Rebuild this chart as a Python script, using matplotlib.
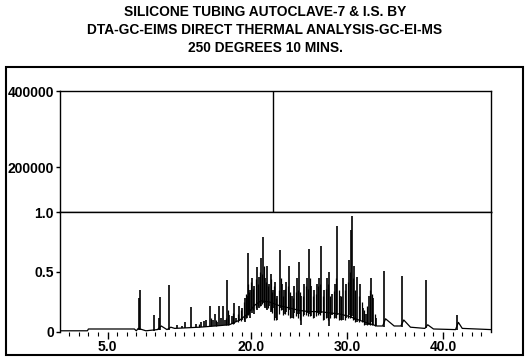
import matplotlib
matplotlib.use("Agg")
import matplotlib.pyplot as plt
from matplotlib.patches import Rectangle

plt.rcParams['font.family'] = ['Liberation Sans', 'DejaVu Sans']
plt.rcParams['font.weight'] = 'bold'

title_lines = ["SILICONE TUBING AUTOCLAVE-7 & I.S. BY",
               "DTA-GC-EIMS DIRECT THERMAL ANALYSIS-GC-EI-MS",
               "250 DEGREES 10 MINS."]

# baseline / hump of the chromatogram (minutes, relative abundance)
base_t = [0.0, 2.9, 3.0, 7.8, 8.0, 8.2, 8.6, 9.0, 10.2, 10.6, 11.2, 11.6, 12.0,
          14.6, 16.2, 17.7, 18.8, 19.6, 20.3, 21.0, 21.9, 22.9, 24.0, 25.0,
          26.0, 27.1, 28.1, 29.2, 30.2, 31.2, 32.3, 33.1, 33.7, 34.0, 34.9,
          35.6, 35.9, 36.6, 38.1, 38.4, 39.0, 41.3, 41.6, 42.0, 45.0]
base_v = [0.01, 0.01, 0.025, 0.025, 0.01, 0.03, 0.02, 0.01, 0.02, 0.05, 0.02,
          0.04, 0.03, 0.04, 0.05, 0.06, 0.10, 0.15, 0.22, 0.26, 0.25, 0.22,
          0.20, 0.18, 0.17, 0.17, 0.16, 0.15, 0.13, 0.10, 0.07, 0.05, 0.05,
          0.11, 0.05, 0.05, 0.10, 0.04, 0.03, 0.06, 0.025, 0.02, 0.08, 0.03, 0.02]

# main peaks: retention time, foot, apex
peak_t = [8.26, 8.36, 9.82, 10.35, 10.44, 11.38, 12.21, 12.8, 13.1, 13.67, 14.2,
          14.7, 15.1, 15.3, 15.64, 15.95, 16.16, 16.4, 16.58, 16.8, 17.0, 17.2,
          17.5, 17.7, 17.93, 18.24, 18.45, 18.76, 19.07, 19.3, 19.5, 19.7, 19.9,
          20.1, 20.3, 20.6, 20.8, 21.05, 21.26, 21.47, 21.67, 21.88, 22.1, 22.3,
          22.5, 22.7, 23.03, 23.2, 23.4, 23.65, 23.96, 24.2, 24.5, 24.8, 25.0,
          25.2, 25.5, 25.8, 26.04, 26.25, 26.56, 26.87, 27.08, 27.29, 27.6, 27.9,
          28.1, 28.43, 28.75, 28.95, 29.27, 29.58, 29.89, 30.2, 30.41, 30.51,
          30.72, 31.0, 31.35, 31.66, 31.97, 32.28, 32.49, 32.7, 33.0, 33.84,
          35.7, 38.21, 41.44]
peak_lo = [0.02, 0.02, 0.01, 0.02, 0.02, 0.02, 0.03, 0.03, 0.03, 0.04, 0.04,
           0.04, 0.04, 0.04, 0.05, 0.05, 0.05, 0.05, 0.05, 0.05, 0.06, 0.06,
           0.06, 0.06, 0.07, 0.07, 0.08, 0.09, 0.10, 0.08, 0.12, 0.14, 0.12,
           0.16, 0.15, 0.18, 0.20, 0.22, 0.24, 0.20, 0.18, 0.22, 0.17, 0.20,
           0.12, 0.10, 0.20, 0.18, 0.15, 0.17, 0.18, 0.12, 0.16, 0.15, 0.15,
           0.06, 0.14, 0.16, 0.15, 0.13, 0.12, 0.16, 0.15, 0.16, 0.10, 0.12,
           0.05, 0.14, 0.12, 0.14, 0.10, 0.10, 0.12, 0.14, 0.12, 0.13, 0.10,
           0.08, 0.10, 0.08, 0.06, 0.06, 0.08, 0.06, 0.05, 0.04, 0.04, 0.03, 0.02]
peak_hi = [0.28, 0.35, 0.14, 0.12, 0.29, 0.39, 0.06, 0.05, 0.08, 0.21, 0.07,
           0.08, 0.09, 0.10, 0.22, 0.10, 0.15, 0.08, 0.22, 0.12, 0.22, 0.10,
           0.43, 0.14, 0.13, 0.24, 0.12, 0.22, 0.20, 0.28, 0.30, 0.66, 0.35,
           0.45, 0.38, 0.54, 0.46, 0.62, 0.79, 0.45, 0.55, 0.40, 0.48, 0.35,
           0.42, 0.30, 0.68, 0.40, 0.35, 0.42, 0.55, 0.30, 0.38, 0.45, 0.58,
           0.30, 0.40, 0.45, 0.69, 0.38, 0.35, 0.40, 0.45, 0.72, 0.35, 0.45,
           0.50, 0.32, 0.40, 0.88, 0.30, 0.45, 0.40, 0.60, 0.85, 0.97, 0.55,
           0.46, 0.40, 0.20, 0.15, 0.30, 0.45, 0.28, 0.12, 0.51, 0.47, 0.43, 0.14]

# smaller unresolved peaks ("grass") on the hump
grass_t = [14.5, 15.8, 16.3, 17.35, 17.6, 18.1, 18.6, 18.9, 19.2, 19.4, 19.6,
           19.8, 20.0, 20.2, 20.45, 20.7, 20.95, 21.15, 21.35, 21.57, 21.78,
           22.0, 22.2, 22.4, 22.6, 22.85, 23.1, 23.3, 23.55, 23.8, 24.05, 24.35,
           24.65, 24.9, 25.1, 25.35, 25.65, 25.9, 26.15, 26.4, 26.7, 26.95, 27.2,
           27.45, 27.75, 28.0, 28.25, 28.6, 28.85, 29.1, 29.4, 29.75, 30.05,
           30.3, 30.62, 30.85, 31.2, 31.5, 31.8, 32.1, 32.4, 32.6, 32.85]
grass_lo = [0.04, 0.05, 0.05, 0.06, 0.06, 0.07, 0.08, 0.09, 0.10, 0.12, 0.14,
            0.15, 0.18, 0.18, 0.20, 0.22, 0.22, 0.23, 0.22, 0.20, 0.20, 0.18,
            0.16, 0.10, 0.10, 0.15, 0.18, 0.14, 0.15, 0.14, 0.12, 0.12, 0.13,
            0.12, 0.10, 0.13, 0.14, 0.13, 0.13, 0.12, 0.13, 0.14, 0.14, 0.10,
            0.12, 0.10, 0.12, 0.12, 0.12, 0.10, 0.10, 0.10, 0.12, 0.12, 0.10,
            0.08, 0.08, 0.08, 0.06, 0.06, 0.06, 0.06, 0.05]
grass_hi = [0.07, 0.12, 0.10, 0.12, 0.18, 0.16, 0.15, 0.18, 0.25, 0.32, 0.40,
            0.33, 0.42, 0.36, 0.44, 0.40, 0.50, 0.48, 0.55, 0.42, 0.38, 0.44,
            0.33, 0.38, 0.28, 0.35, 0.45, 0.30, 0.36, 0.38, 0.33, 0.28, 0.33,
            0.35, 0.33, 0.30, 0.38, 0.36, 0.45, 0.30, 0.32, 0.38, 0.40, 0.30,
            0.36, 0.40, 0.30, 0.34, 0.45, 0.35, 0.30, 0.35, 0.42, 0.50, 0.45,
            0.35, 0.30, 0.25, 0.18, 0.22, 0.35, 0.32, 0.15]

x_ticks = [5.0, 20.0, 30.0, 40.0]
x_labels = ["5.0", "20.0", "30.0", "40.0"]
top_ticks = [200000, 400000]
bottom_ticks = [0, 0.5, 1.0]
bottom_labels = ["0", "0.5", "1.0"]
cursor_t = 22.3

fig = plt.figure(figsize=(5.3, 3.6), dpi=100)
ax_top = fig.add_axes([0.1125, 0.4111, 0.8139, 0.3361])
ax = fig.add_axes([0.1125, 0.0778, 0.8139, 0.3333], sharex=ax_top)

# outer page frame
fig.patches.append(Rectangle((0.011, 0.014), 0.976, 0.800, transform=fig.transFigure,
                             fill=False, lw=1.5, ec='black'))

for i, line in enumerate(title_lines):
    fig.text(0.5, 1 - (12.5 + 17.5 * i) / 360, line, ha='center', va='center',
             fontsize=9.9, fontweight='bold')

# top panel (empty, with cursor line)
ax_top.set_ylim(81600, 400000)
ax_top.set_yticks(top_ticks)
ax_top.set_yticklabels([str(v) for v in top_ticks])
ax_top.axvline(cursor_t, color='black', lw=1)
ax_top.tick_params(axis='x', which='both', bottom=False, labelbottom=False)
ax_top.tick_params(axis='y', length=3, width=1, pad=1, labelsize=10)
for s in ax_top.spines.values():
    s.set_linewidth(1)

# chromatogram
ax.plot(base_t, base_v, color='black', lw=0.9)
ax.vlines(grass_t, grass_lo, grass_hi, color='black', lw=0.9)
ax.vlines(peak_t, peak_lo, peak_hi, color='black', lw=1.2)
ax.set_xlim(0, 45)
ax.set_ylim(0, 1.0)
ax.set_yticks(bottom_ticks)
ax.set_yticklabels(bottom_labels)
ax.set_xticks(x_ticks)
ax.set_xticklabels(x_labels)
ax.set_xticks(range(1, 45), minor=True)
ax.spines['bottom'].set_visible(False)
for s in ['top', 'left', 'right']:
    ax.spines[s].set_linewidth(1)
ax.tick_params(axis='y', length=3, width=1, pad=1, labelsize=10)
ax.tick_params(axis='x', which='major', length=5, width=1, pad=1, labelsize=10)
ax.tick_params(axis='x', which='minor', length=3, width=0.8)

fig.savefig("out.png", dpi=100)
